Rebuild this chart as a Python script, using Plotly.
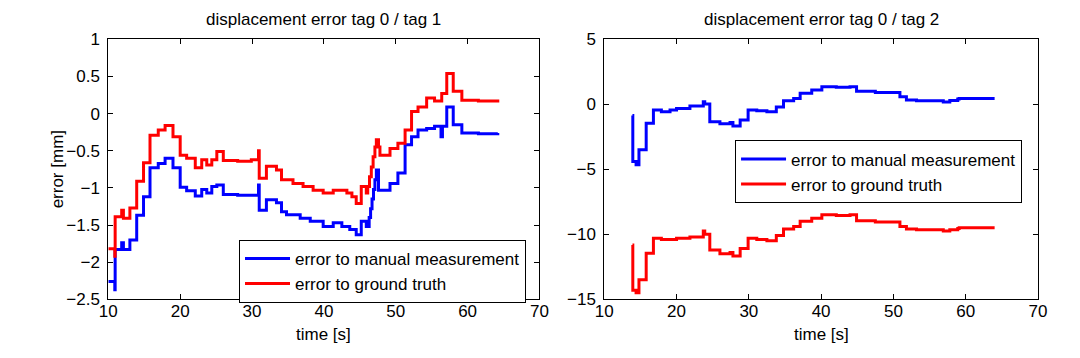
import plotly.graph_objects as go

# tag 0 / tag 1 -- time [s] and error [mm]
t_manual_1 = [10.0, 10.9, 10.95, 11.86, 12.1, 13.0, 13.95, 14.9, 15.8, 16.95, 17.9, 19.0, 20.0, 20.9,
              22.1, 23.0, 23.7, 24.4, 25.1, 26.0, 28.0, 30.9, 31.0, 32.0, 33.4, 34.1, 34.8, 36.7,
              38.1, 39.9, 41.3, 42.5, 43.6, 44.5, 45.2, 45.9, 46.3, 46.5, 46.7, 46.9, 47.1, 47.3,
              47.6, 49.2, 50.3, 51.3, 52.2, 53.1, 54.3, 55.4, 56.3, 56.5, 57.1, 58.0, 59.2, 61.5, 64.2]
err_manual_1 = [-2.26, -2.37, -1.83, -1.74, -1.83, -1.70, -1.37, -1.12, -0.73, -0.67, -0.60, -0.73, -0.99, -1.04,
                -1.11, -1.02, -1.07, -0.98, -0.96, -1.09, -1.10, -0.96, -1.30, -1.16, -1.20, -1.32, -1.36, -1.41,
                -1.45, -1.52, -1.47, -1.52, -1.56, -1.63, -1.45, -1.52, -1.40, -1.28, -1.15, -1.02, -0.89, -0.76,
                -1.03, -0.94, -0.80, -0.42, -0.31, -0.22, -0.20, -0.17, -0.31, -0.17, 0.09, -0.15, -0.26, -0.27, -0.26]

t_truth_1 = [10.0, 10.9, 10.95, 11.86, 12.1, 13.0, 13.95, 14.9, 15.8, 16.95, 17.9, 19.0, 20.0, 20.9,
             22.1, 23.0, 23.7, 24.4, 25.1, 26.0, 28.0, 29.9, 30.9, 31.0, 32.0, 33.4, 34.1, 35.7,
             37.1, 38.5, 39.9, 41.3, 43.2, 43.9, 44.5, 45.2, 45.9, 46.1, 46.35, 46.6, 46.85, 47.1,
             47.3, 47.6, 47.8, 49.2, 50.3, 51.3, 52.2, 53.1, 54.3, 55.4, 56.4, 57.1, 58.0, 59.2, 61.5, 64.2]
err_truth_1 = [-1.82, -1.92, -1.39, -1.30, -1.41, -1.27, -0.91, -0.66, -0.29, -0.22, -0.16, -0.31, -0.56, -0.60,
               -0.73, -0.62, -0.69, -0.62, -0.51, -0.63, -0.64, -0.62, -0.50, -0.87, -0.71, -0.76, -0.89, -0.94,
               -0.98, -1.03, -1.07, -1.03, -1.07, -1.12, -1.21, -0.98, -1.07, -0.98, -0.85, -0.72, -0.58, -0.45,
               -0.35, -0.45, -0.56, -0.47, -0.40, -0.22, 0.03, 0.09, 0.21, 0.17, 0.27, 0.54, 0.30, 0.18, 0.17, 0.19]

# tag 0 / tag 2
t_manual_2 = [13.9, 13.95, 14.4, 14.8, 15.8, 16.8, 17.9, 19.1, 20.0, 21.85, 23.7, 23.9, 24.6, 26.0,
              27.4, 27.8, 28.8, 29.9, 31.1, 32.5, 33.8, 34.8, 36.2, 37.1, 38.7, 40.1, 42.1, 44.0,
              44.9, 47.5, 50.9, 51.8, 53.2, 56.9, 57.8, 58.9, 59.1, 64.0]
err_manual_2 = [-0.85, -4.4, -4.65, -3.5, -1.46, -0.44, -0.56, -0.44, -0.31, -0.13, 0.2, 0.02, -1.34, -1.5,
                -1.4, -1.67, -1.2, -0.44, -0.5, -0.57, -0.2, 0.28, 0.46, 0.85, 1.1, 1.36, 1.31, 1.36,
                1.0, 0.92, 0.59, 0.33, 0.28, 0.18, 0.3, 0.41, 0.46, 0.46]

t_truth_2 = [13.9, 13.95, 14.4, 14.8, 15.8, 16.8, 17.9, 20.0, 21.85, 23.7, 23.9, 24.6, 26.0, 27.4,
             27.8, 28.8, 29.9, 31.1, 32.5, 33.8, 34.8, 36.2, 37.1, 38.7, 40.1, 42.1, 44.0, 44.9,
             47.5, 50.9, 51.8, 53.2, 56.9, 57.8, 58.9, 59.1, 64.0]
err_truth_2 = [-10.82, -14.3, -14.5, -13.5, -11.46, -10.3, -10.4, -10.3, -10.2, -9.75, -10.0, -11.2, -11.5, -11.4,
               -11.67, -11.1, -10.3, -10.4, -10.5, -10.1, -9.6, -9.4, -9.0, -8.77, -8.5, -8.55, -8.5, -8.95,
               -9.05, -9.4, -9.6, -9.65, -9.75, -9.65, -9.55, -9.5, -9.5]

titles = ["displacement error tag 0 / tag 1", "displacement error tag 0 / tag 2"]
names = ["error to manual measurement", "error to ground truth"]

FONT = "Liberation Sans, Arial, Helvetica, sans-serif"
BLUE = "#0000ff"
RED = "#ff0000"

fig = go.Figure()

def step(x, y, name, color, xa, ya, legend):
    fig.add_trace(go.Scatter(x=x, y=y, name=name, mode="lines", line_shape="hv",
                             line=dict(color=color, width=3),
                             xaxis=xa, yaxis=ya, legend=legend))

step(t_manual_1, err_manual_1, names[0], BLUE, "x", "y", "legend")
step(t_truth_1, err_truth_1, names[1], RED, "x", "y", "legend")
step(t_manual_2, err_manual_2, names[0], BLUE, "x2", "y2", "legend2")
step(t_truth_2, err_truth_2, names[1], RED, "x2", "y2", "legend2")

axis_style = dict(showline=True, linecolor="black", linewidth=1, mirror="allticks",
                  ticks="inside", ticklen=5, tickcolor="black", showgrid=False, zeroline=False,
                  automargin=False, tickfont=dict(family=FONT, size=17, color="black"))

ydom = [0.164, 0.890]
fig.update_layout(
    template="none",
    width=1080, height=358,
    margin=dict(l=0, r=0, t=0, b=0, autoexpand=False),
    paper_bgcolor="white", plot_bgcolor="white",
    font=dict(family=FONT, size=17, color="black"),
    xaxis=dict(domain=[0.1003, 0.4995], range=[10, 70], dtick=10, anchor="y",
               ticklabelstandoff=-4, **axis_style),
    yaxis=dict(domain=ydom, range=[-2.5, 1], dtick=0.5, anchor="x",
               ticklabelstandoff=4, **axis_style),
    xaxis2=dict(domain=[0.5595, 0.9611], range=[10, 70], dtick=10, anchor="y2",
                ticklabelstandoff=-4, **axis_style),
    yaxis2=dict(domain=ydom, range=[-15, 5], dtick=5, anchor="x2",
                ticklabelstandoff=4, **axis_style),
    legend=dict(x=0.2213, y=0.330, xanchor="left", yanchor="top", bgcolor="white",
                bordercolor="black", borderwidth=1, font=dict(family=FONT, size=17),
                itemwidth=45, tracegroupgap=0),
    legend2=dict(x=0.6806, y=0.608, xanchor="left", yanchor="top", bgcolor="white",
                 bordercolor="black", borderwidth=1, font=dict(family=FONT, size=17),
                 itemwidth=45, tracegroupgap=0),
)

for cx, title in zip([0.2999, 0.7603], titles):
    fig.add_annotation(text=title, x=cx, y=0.9455, xref="paper", yref="paper",
                       showarrow=False, xanchor="center", yanchor="middle",
                       font=dict(family=FONT, size=17))
    fig.add_annotation(text="time [s]", x=cx, y=0.066, xref="paper", yref="paper",
                       showarrow=False, xanchor="center", yanchor="middle",
                       font=dict(family=FONT, size=17))

fig.add_annotation(text="error [mm]", x=0.0528, y=0.527, xref="paper", yref="paper",
                   showarrow=False, textangle=-90, xanchor="center", yanchor="middle",
                   font=dict(family=FONT, size=17))

# drop the browser's default body margin so the figure sits at the page corner
fig.write_html("out.html", config={"displayModeBar": False},
               post_script="document.body.style.margin='0';")
